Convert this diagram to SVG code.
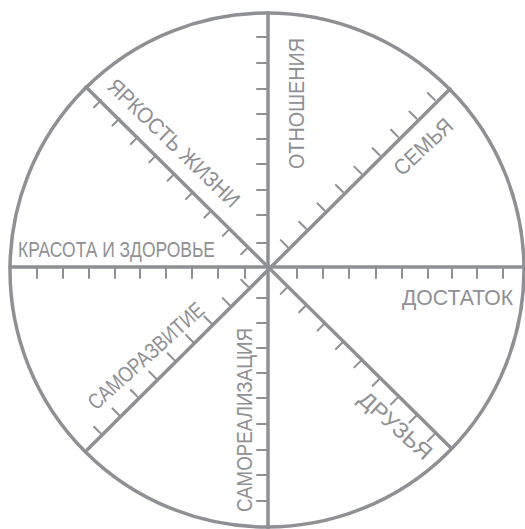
<svg xmlns="http://www.w3.org/2000/svg" width="525" height="529" viewBox="0 0 525 529">
  <style>
    .ln { stroke: #8f9094; fill: none; stroke-linecap: round; }
    .rim { stroke-width: 3.5; }
    .spoke { stroke-width: 3.5; }
    .tick { stroke-width: 2; }
    .lbl { font-family: "Liberation Sans", "DejaVu Sans", sans-serif; fill: #8f9094; font-size: 22px; }
  </style>
  <defs>
    <path id="tUp" d="M28,0v-10M54,0v-10M80,0v-10M106,0v-10M132,0v-10M158,0v-10M184,0v-10M210,0v-10M236,0v-10"/>
    <path id="tDn" d="M28,0v10M54,0v10M80,0v10M106,0v10M132,0v10M158,0v10M184,0v10M210,0v10M236,0v10"/>
  </defs>
  <rect width="525" height="529" fill="#ffffff"/>
  <g id="wheel">
    <circle class="ln rim" cx="267" cy="270" r="257"/>
  </g>
  <g id="connectors" class="ln">
    <line class="spoke" x1="268" y1="13" x2="268" y2="529"/>
    <line class="spoke" x1="10" y1="267" x2="525" y2="267"/>
    <line class="spoke" x1="86" y1="87" x2="451" y2="448"/>
    <line class="spoke" x1="450" y1="89" x2="87" y2="450"/>
    <g class="tick">
      <path d="M257,243h11M257,215h11M257,190h11M257,164h11M257,139h11M257,114h11M257,89h11M257,63h11M257,37h11"/>
      <path d="M257,298h11M257,323h11M257,348h11M257,373h11M257,398h11M257,424h11M257,450h11M257,475h11M257,501h11"/>
      <path d="M37,267v11M63,267v11M89,267v11M115,267v11M140,267v11M166,267v11M192,267v11M218,267v11M245,267v11"/>
      <path d="M297,267v11M323,267v11M349,267v11M376,267v11M402,267v11M428,267v11M452,267v11M477,267v11M503,267v11"/>
      <use href="#tUp" transform="translate(268,267) rotate(-45)"/>
      <use href="#tUp" transform="translate(268,267) rotate(-135)"/>
      <use href="#tDn" transform="translate(268,267) rotate(135)"/>
      <use href="#tDn" transform="translate(268,267) rotate(45)"/>
    </g>
  </g>
  <g id="otnosheniya"><text class="lbl" font-size="23" transform="translate(304,169) rotate(-90)" textLength="131" lengthAdjust="spacingAndGlyphs">ОТНОШЕНИЯ</text></g>
  <g id="semya"><text class="lbl" transform="translate(402,177) rotate(-43)" textLength="72" lengthAdjust="spacingAndGlyphs">СЕМЬЯ</text></g>
  <g id="dostatok"><text class="lbl" font-size="23" x="402" y="305" textLength="111" lengthAdjust="spacingAndGlyphs">ДОСТАТОК</text></g>
  <g id="druzya"><text class="lbl" transform="translate(357,401) rotate(42)" textLength="90" lengthAdjust="spacingAndGlyphs">ДРУЗЬЯ</text></g>
  <g id="samorealizatsiya"><text class="lbl" font-size="23" transform="translate(252,512) rotate(-90)" textLength="184" lengthAdjust="spacingAndGlyphs">САМОРЕАЛИЗАЦИЯ</text></g>
  <g id="samorazvitie"><text class="lbl" transform="translate(96,411) rotate(-42)" textLength="148" lengthAdjust="spacingAndGlyphs">САМОРАЗВИТИЕ</text></g>
  <g id="krasota"><text class="lbl" x="18" y="257" textLength="197" lengthAdjust="spacingAndGlyphs">КРАСОТА И ЗДОРОВЬЕ</text></g>
  <g id="yarkost"><text class="lbl" transform="translate(106,88) rotate(44)" textLength="174" lengthAdjust="spacingAndGlyphs">ЯРКОСТЬ ЖИЗНИ</text></g>
</svg>
